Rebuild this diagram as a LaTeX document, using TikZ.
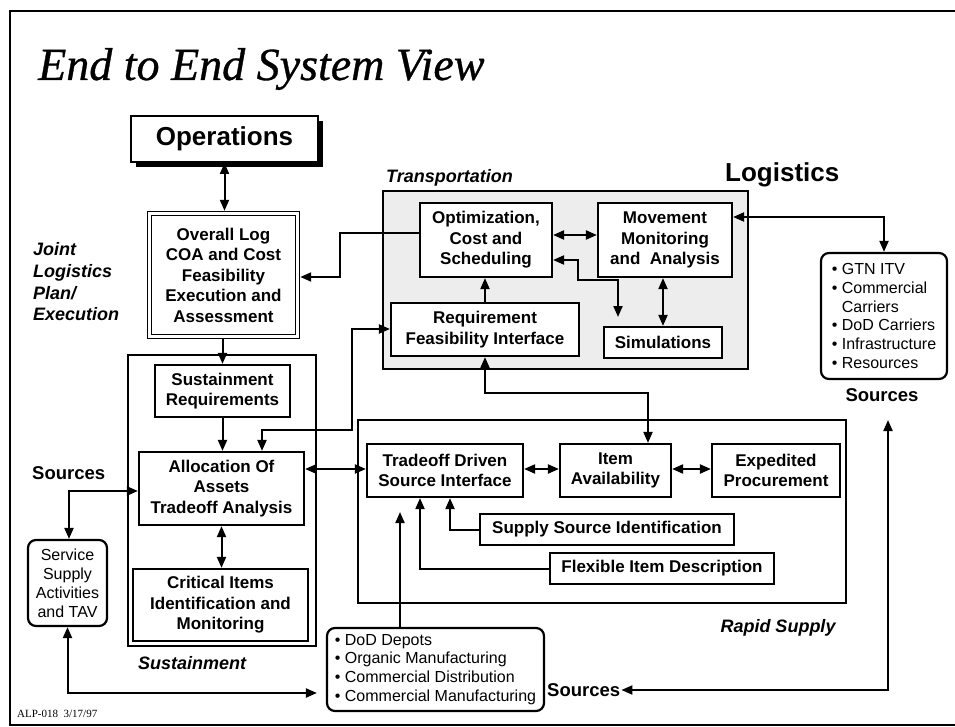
\documentclass[tikz,border=0pt]{standalone}
\usepackage{fontspec}
\setmainfont{Liberation Sans}
\newfontfamily\serifttl{Liberation Serif}
\newfontfamily\ttlfont{Liberation Serif}[ItalicFeatures={FakeBold=0.7}]
\usetikzlibrary{arrows.meta}
\newcommand\mkbox[6][]{\node[bx,minimum width={#5-#3},minimum height={#6-#4},#1] (#2) at ({(#3+#5)/2},{(#4+#6)/2})}
\begin{document}
\begin{tikzpicture}[x=1pt,y=-1pt,
  bx/.style={draw, line width=2.2pt, fill=white, inner sep=0pt, align=center,
    font=\bfseries\fontsize{17}{20.5}\selectfont},
  cont/.style={draw, line width=2.2pt, inner sep=0pt},
  lst/.style={draw, line width=2.2pt, fill=white, rounded corners=8pt, inner sep=0pt,
    align=left, font=\fontsize{16}{18.9}\selectfont},
  lbl/.style={inner sep=0pt, font=\bfseries\itshape\fontsize{18}{21.7}\selectfont},
  src/.style={inner sep=1pt, font=\bfseries\fontsize{18.5}{22}\selectfont},
  arr/.style={line width=2pt, -{Triangle[length=11pt,width=9pt]}},
  darr/.style={line width=2pt, {Triangle[length=11pt,width=9pt]}-{Triangle[length=11pt,width=9pt]}}
]
\useasboundingbox (0,0) rectangle (955,727);
% frame
\draw[line width=2.4pt] (962,11) -- (10,11) -- (10,725) -- (962,725);
% title
\node[anchor=base west, inner sep=0pt, font=\ttlfont\itshape\fontsize{46}{50}\selectfont] (title) at (38,80) {End to End System View};
\node[anchor=west, inner sep=0pt, font=\serifttl\fontsize{11}{13}\selectfont] (alp) at (17,714) {ALP-018\ \ 3/17/97};

% containers
\mkbox[cont, fill=black!7]{trans}{383}{191}{748}{369}{};
\mkbox[cont]{rapid}{358}{420}{846}{603}{};
\mkbox[cont]{sust}{128}{355}{316}{646}{};

% labels
\node[lbl, anchor=base west] (translbl) at (386,183) {Transportation};
\node[lbl, anchor=west] (sustlbl) at (138,663) {Sustainment};
\node[lbl] (rapidlbl) at (778,628) {Rapid Supply};
\node[lbl, anchor=west, align=left] (joint) at (33,282) {Joint\\Logistics\\Plan/\\Execution};
\node[anchor=base west, inner sep=0pt, font=\bfseries\fontsize{26}{30}\selectfont] (logi) at (725,182) {Logistics};

% operations with shadow
\fill (136,121) rectangle (323,167);
\mkbox[font=\bfseries\fontsize{26}{30}\selectfont]{ops}{131}{116}{318}{162}{Operations};
\mkbox[double, double distance=2.4pt, line width=1.5pt, outer sep=2.7pt]{overall}{149.5}{213.5}{297.5}{336.5}{Overall Log\\COA and Cost\\Feasibility\\Execution and\\Assessment};

% transportation
\mkbox{opt}{420}{203}{552}{277}{Optimization,\\Cost and\\Scheduling};
\mkbox{move}{598}{203}{732}{277}{Movement\\Monitoring\\and\ \ Analysis};
\mkbox{req}{391}{303}{579}{356}{Requirement\\Feasibility Interface};
\mkbox{sim}{604}{327}{722}{358}{Simulations};

% sustainment
\mkbox{sreq}{155}{365}{290}{417}{Sustainment\\Requirements};
\mkbox{alloc}{139}{452}{304}{525}{Allocation Of\\Assets\\Tradeoff Analysis};
\mkbox{crit}{133}{569}{308}{641}{Critical Items\\Identification and\\Monitoring};

% rapid supply
\mkbox{trade}{367}{444}{523}{497}{Tradeoff Driven\\Source Interface};
\mkbox{item}{560}{444}{671}{497}{Item\\Availability};
\mkbox{exp}{712}{444}{840}{497}{Expedited\\Procurement};
\mkbox{ssi}{480}{514}{734}{545}{Supply Source Identification};
\mkbox{fid}{550}{553}{774}{584}{Flexible Item Description};

% sources boxes
\mkbox[lst]{gtn}{821}{253}{947}{379}{\textbullet\ GTN ITV\\\textbullet\ Commercial\\\phantom{\textbullet\ }Carriers\\\textbullet\ DoD Carriers\\\textbullet\ Infrastructure\\\textbullet\ Resources};
\mkbox[lst, align=center]{svc}{28}{540}{107}{626}{Service\\Supply\\Activities\\and TAV};
\mkbox[lst]{dod}{327}{628}{544}{711}{\textbullet\ DoD Depots\\\textbullet\ Organic Manufacturing\\\textbullet\ Commercial Distribution\\\textbullet\ Commercial Manufacturing};

\node[src] (srcR) at (882,395) {Sources};
\node[src, anchor=west] (srcL) at (31,473) {Sources};
\node[src, anchor=west] (srcB) at (546,690) {Sources};

% free ends
\coordinate (simtip) at (618,317);
\coordinate (dodtip) at (400,512);
\coordinate (srctip) at (888,420);

% connectors
\draw[darr] (ops.south |- 0,163) -- (ops.south |- overall.north);
\draw[arr] (opt.west |- 0,233) -- (340,233) -- (340,277) -- (overall.east |- 0,277);
\draw[darr] (opt.east |- 0,235) -- (move.west |- 0,235);
\draw[darr] (opt.east |- 0,260) -- (578,260) -- (578,280) -- (618,280) -- (simtip);
\draw[darr] (sim.north |- move.south) -- (sim.north);
\draw[darr] (move.east |- 0,217) -| (gtn.north);
\draw[arr] (req.north) -- (req.north |- opt.south);
\draw[darr] (req.south) -- (req.south |- 0,393) -- (648,393) -- (item.north -| 648,0);
\draw[arr] (sreq.north |- overall.south) -- (sreq.north);
\draw[arr] (sreq.south) -- (sreq.south |- alloc.north);
\draw[darr] (alloc.south) -- (alloc.south |- crit.north);
\draw[darr] (alloc.north -| 262,0) -- (262,430) -- (352,430) -- (352,329) -- (req.west |- 0,329);
\draw[darr] (alloc.east |- 0,469) -- (trade.west |- 0,469);
\draw[darr] (trade.east |- 0,469) -- (item.west |- 0,469);
\draw[darr] (item.east |- 0,469) -- (exp.west |- 0,469);
\draw[arr] (ssi.west) -| (trade.south -| 450,0);
\draw[arr] (fid.west) -| (trade.south -| 420,0);
\draw[arr] (dod.north -| 400,0) -- (dodtip);
\draw[darr] (alloc.west |- 0,491) -- (69,491) -- (svc.north -| 69,0);
\draw[darr, shorten >=9pt] (svc.south) -- (svc.south |- 0,693) -- (dod.west |- 0,693);
\draw[darr] (srcB.east) -- (srcB.east -| srctip) -- (srctip);
\end{tikzpicture}
\end{document}
